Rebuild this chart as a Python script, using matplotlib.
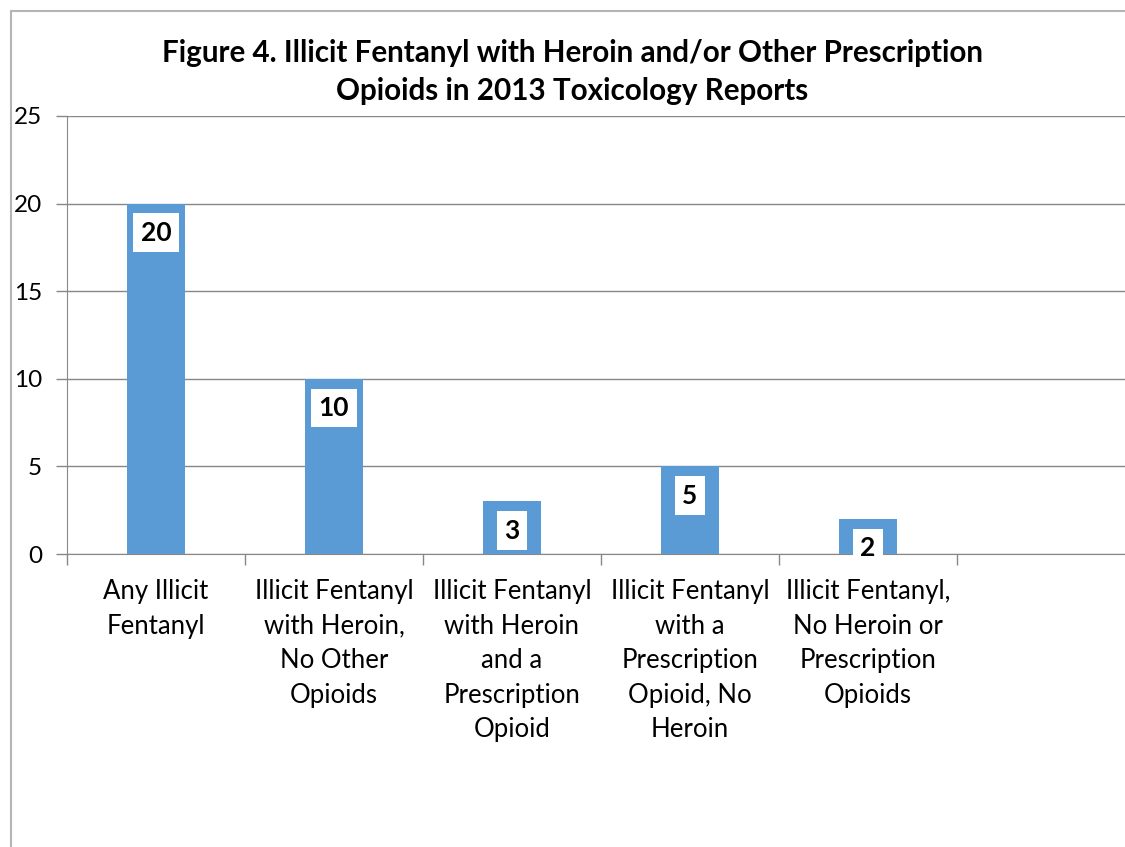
import matplotlib.pyplot as plt
from matplotlib.patches import Rectangle

categories = [
    'Any Illicit\nFentanyl',
    'Illicit Fentanyl\nwith Heroin,\nNo Other\nOpioids',
    'Illicit Fentanyl\nwith Heroin\nand a\nPrescription\nOpioid',
    'Illicit Fentanyl\nwith a\nPrescription\nOpioid, No\nHeroin',
    'Illicit Fentanyl,\nNo Heroin or\nPrescription\nOpioids',
]
values = [20, 10, 3, 5, 2]
y_ticks = [0, 5, 10, 15, 20, 25]
n_slots = 6  # Excel left an empty sixth category slot

BAR = '#5B9BD5'
GRID = '#878787'

plt.rcParams['font.family'] = ['Lato', 'DejaVu Sans']

fig = plt.figure(figsize=(11.25, 8.47), dpi=100)
ax = fig.add_axes([67 / 1125, 1 - 554 / 847, 1068 / 1125, 438 / 847])

x = list(range(len(values)))
ax.bar(x, values, width=0.33, color=BAR, zorder=3)

ax.set_xlim(-0.5, n_slots - 0.5)
ax.set_ylim(0, 25)
ax.set_yticks(y_ticks)
ax.tick_params(axis='y', length=8, width=1, color=GRID, pad=10, labelsize=17.5)
ax.yaxis.grid(True, color=GRID, linewidth=1, zorder=0)

# category boundaries get tick marks, labels go at the centres
ax.set_xticks([i - 0.5 for i in range(n_slots + 1)])
ax.set_xticklabels([])
ax.tick_params(axis='x', which='major', length=8, width=1, color=GRID)
ax.set_xticks(x, minor=True)
ax.set_xticklabels(categories, minor=True, fontsize=18.5, linespacing=1.48)
ax.tick_params(axis='x', which='minor', length=0, pad=18)

for s in ['top', 'right']:
    ax.spines[s].set_visible(False)
for s in ['left', 'bottom']:
    ax.spines[s].set_color(GRID)

for i, v in zip(x, values):
    ax.annotate(str(v), xy=(i, v), xytext=(0, -21), textcoords='offset points',
                ha='center', va='center', fontsize=19, fontweight='bold', zorder=5,
                bbox=dict(boxstyle='square,pad=0.28', fc='white', ec='none'))

fig.text(0.5 + 10 / 1125, 1 - 72 / 847,
         'Figure 4. Illicit Fentanyl with Heroin and/or Other Prescription\n'
         'Opioids in 2013 Toxicology Reports',
         ha='center', va='center', fontsize=21.3, fontweight='bold', linespacing=1.45)

# chart border (runs off the right and bottom of the picture)
fig.patches.append(Rectangle((11 / 1125, -0.1), 1.2, 1.1 - 11 / 847,
                             transform=fig.transFigure, fill=False,
                             ec='#B5B5B5', lw=1.5))

fig.savefig('out.png', dpi=100)
